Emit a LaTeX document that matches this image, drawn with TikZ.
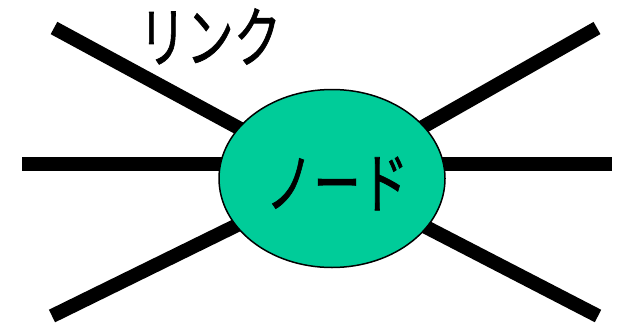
\documentclass[tikz,border=0pt]{standalone}
\usepackage{fontspec}
\newfontfamily\cjk[FakeBold=1.2]{Noto Sans CJK JP}
\usetikzlibrary{shapes.geometric,backgrounds}
\definecolor{nodegreen}{RGB}{0,204,153}
\tikzset{
  linkline/.style={line width=14pt, black, line cap=butt},
  nodeshape/.style={ellipse, draw=black, line width=1.5pt, fill=nodegreen,
    minimum width=226pt, minimum height=178pt, inner sep=0pt},
  jtext/.style={font=\cjk\fontsize{66pt}{70pt}\selectfont, inner sep=0pt}
}
\begin{document}
\begin{tikzpicture}[x=1pt,y=-1pt]
\useasboundingbox (0,0) rectangle (620,324);
\node[nodeshape] (nd) at (332,178.5) {};
\node[jtext] (ndlabel) at (337,183.5) {\scalebox{0.72}[1]{ノード}};
\node[jtext] (linklabel) at (210,36.5) {\scalebox{0.72}[1]{リンク}};
\coordinate (ul) at (54,28);
\coordinate (ur) at (597,28);
\coordinate (ll) at (52,316);
\coordinate (lr) at (598,316);
\coordinate (hl) at (22,164);
\coordinate (hr) at (612,164);
\begin{pgfonlayer}{background}
\draw[linkline] (ul) -- (nd.center);
\draw[linkline] (ur) -- (nd.center);
\draw[linkline] (ll) -- (nd.center);
\draw[linkline] (lr) -- (nd.center);
\draw[linkline] (hl) -- (hr);
\end{pgfonlayer}
\end{tikzpicture}
\end{document}
